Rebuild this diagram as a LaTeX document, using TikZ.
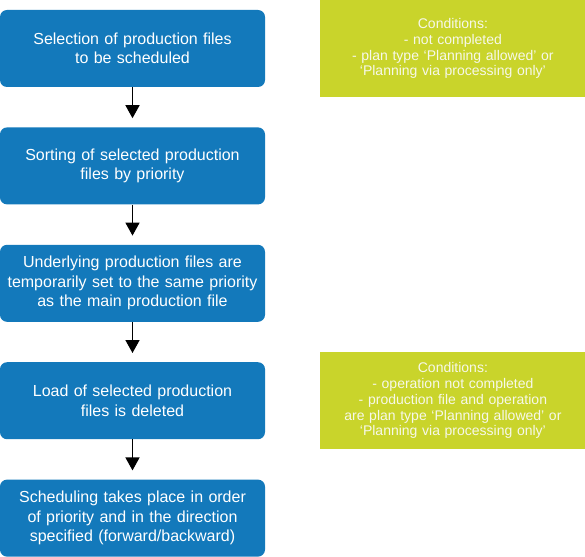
\documentclass[tikz,border=0pt]{standalone}
\usepackage{fontspec}
\setmainfont{Liberation Sans}
\usetikzlibrary{positioning,arrows.meta}
\definecolor{stepBlue}{HTML}{1379BB}
\definecolor{condGreen}{HTML}{C9D42B}
\definecolor{condText}{HTML}{F7F8EA}
\tikzset{
    stepbox/.style={fill=stepBlue,rounded corners=7pt,inner sep=0pt,
        minimum width=265pt,minimum height=77pt,text width=262pt,
        align=center,text=white,font=\fontsize{16}{19.5}\selectfont},
    condbox/.style={fill=condGreen,inner sep=0pt,
        minimum width=265pt,minimum height=97pt,text width=262pt,
        align=center,text=condText,font=\fontsize{14}{15.8}\selectfont},
    arrow/.style={-{Triangle[width=14pt,length=13pt]},draw=black,
        line width=1.5pt,shorten >=9pt}
}

\begin{document}
\begin{tikzpicture}[node distance=40pt and 55pt]
    \useasboundingbox (0,0) rectangle (585pt,-556pt);
    % main flow
    \node[stepbox] (select) at (132.5pt,-48.5pt) {Selection of production files\\
        to be scheduled};
    \node[stepbox] (sort) [below=of select] {Sorting of selected production\\
        files by priority};
    \node[stepbox] (underlying) [below=of sort] {Underlying production files are\\
        temporarily set to the same priority\\
        as the main production file};
    \node[stepbox] (load) [below=of underlying] {Load of selected production\\
        files is deleted};
    \node[stepbox] (schedule) [below=of load] {Scheduling takes place in order\\
        of priority and in the direction\\
        specified (forward/backward)};
    % conditions
    \node[condbox] (condSelect) [right=of select] {Conditions:\\
        - not completed\\
        - plan type ‘Planning allowed’ or\\
        ‘Planning via processing only’};
    \node[condbox] (condLoad) [right=of load] {Conditions:\\
        - operation not completed\\
        - production file and operation\\
        are plan type ‘Planning allowed’ or\\
        ‘Planning via processing only’};
    \draw[arrow] (select) -- (sort);
    \draw[arrow] (sort) -- (underlying);
    \draw[arrow] (underlying) -- (load);
    \draw[arrow] (load) -- (schedule);
\end{tikzpicture}
\end{document}
